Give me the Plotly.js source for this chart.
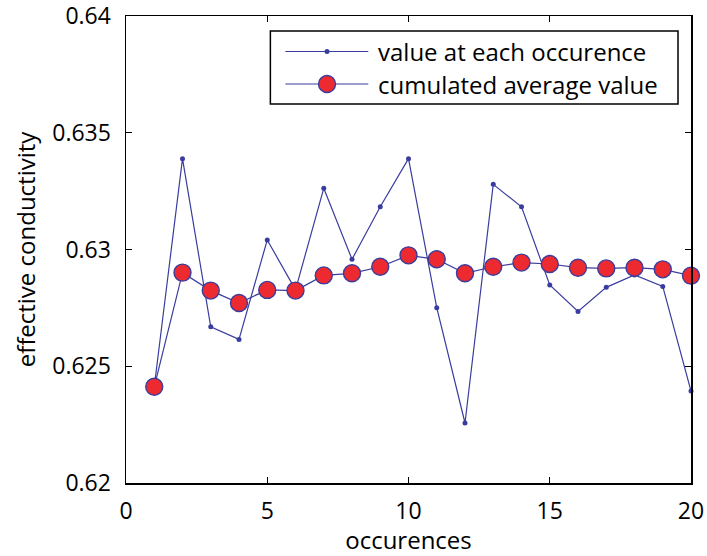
<!DOCTYPE html>
<html>
<head>
<meta charset="utf-8">
<script src="https://cdn.plot.ly/plotly-3.0.1.min.js"></script>
<style>html,body{margin:0;padding:0;background:#fff;}#chart{width:707px;height:556px;}</style>
</head>
<body>
<div id="chart"></div>
<script>
const occurrences = [1,2,3,4,5,6,7,8,9,10,11,12,13,14,15,16,17,18,19,20];
const valueAtEach = [0.62412,0.63389,0.62669,0.62615,0.63041,0.62827,0.63262,0.62958,0.63183,0.63389,
                     0.62751,0.62257,0.63279,0.63183,0.62848,0.62735,0.62838,0.62891,0.62842,0.62394];
const cumulatedAvg = [0.62412,0.62901,0.62824,0.62771,0.62827,0.62824,0.62889,0.62898,0.62926,0.62975,
                      0.62958,0.62898,0.62926,0.62944,0.62938,0.62922,0.62919,0.62922,0.62915,0.62888];
const xTicks = [0,5,10,15,20];
const yTicks = [0.62,0.625,0.63,0.635,0.64];
const yTickText = ['0.62','0.625','0.63','0.635','0.64'];
const legendLabels = ['value at each occurence','cumulated average value'];

const BLUE = '#3a3d9e';
const RED = '#ec2a30';
const FONT = 'Open Sans, sans-serif';
const W = 707, H = 556;
const M = {l:125.5, r:16, t:16, b:73};
const pw = W - M.l - M.r, ph = H - M.t - M.b;
const px = v => (v - M.l) / pw;
const py = v => (H - M.b - v) / ph;

const traces = [
  {x: occurrences, y: valueAtEach, mode: 'lines+markers', name: legendLabels[0],
   line: {color: BLUE, width: 1.2}, marker: {color: BLUE, size: 5}, cliponaxis:false},
  {x: occurrences, y: cumulatedAvg, mode: 'lines+markers', name: legendLabels[1],
   line: {color: BLUE, width: 1.2}, marker: {color: RED, size: 17, line: {color: BLUE, width: 1.4}}, cliponaxis:false}
];

// custom legend (box, sample lines, markers, text)
const lg = {x0:270, x1:678, y0:31, y1:104, lx0:285, lx1:368, mx:326.7, rows:[51.5, 84], tx:376};
const shapes = [
  {type:'rect', xref:'paper', yref:'paper', x0:px(lg.x0), x1:px(lg.x1), y0:py(lg.y1), y1:py(lg.y0),
   line:{color:'#000', width:1.5}, fillcolor:'#fff', layer:'above'}
];
const annotations = [];
lg.rows.forEach((ry, i) => {
  shapes.push({type:'line', xref:'paper', yref:'paper', x0:px(lg.lx0), x1:px(lg.lx1), y0:py(ry), y1:py(ry),
               line:{color:BLUE, width:1.2}, layer:'above'});
  const r = i === 0 ? 2.5 : 8.5;
  shapes.push({type:'circle', xref:'paper', yref:'paper', x0:px(lg.mx - r), x1:px(lg.mx + r),
               y0:py(ry + r), y1:py(ry - r), fillcolor: i === 0 ? BLUE : RED,
               line:{color:BLUE, width: i === 0 ? 0 : 1.4}, layer:'above'});
  annotations.push({xref:'paper', yref:'paper', x:px(lg.tx), y:py(ry), xanchor:'left', yanchor:'middle',
                    text: legendLabels[i], showarrow:false, font:{family:FONT, size:24, color:'#000'}});
});

const axisCommon = {
  showline:true, linecolor:'#000', linewidth:1.5, mirror:'ticks', ticks:'inside', ticklen:6,
  tickcolor:'#000', tickwidth:1.2, showgrid:false, zeroline:false, ticklabeloverflow:'allow',
  tickfont:{family:FONT, size:23, color:'#000'}
};

const layout = {
  width: W, height: H, margin: M, paper_bgcolor:'#fff', plot_bgcolor:'#fff', showlegend:false,
  xaxis: Object.assign({}, axisCommon, {range:[-0.0001,20.0001], tickvals:xTicks, ticktext:xTicks.map(String),
    ticklabelstandoff: 7,
    title:{text:'occurences', font:{family:FONT, size:24, color:'#000'}, standoff: 3}}),
  yaxis: Object.assign({}, axisCommon, {range:[0.6199999,0.6400001], tickvals:yTicks, ticktext:yTickText,
    ticklabelstandoff: 9,
    title:{text:'effective conductivity', font:{family:FONT, size:24, color:'#000'}, standoff: 10}}),
  shapes: shapes, annotations: annotations
};

Plotly.newPlot('chart', traces, layout, {displayModeBar:false, staticPlot:true});
</script>
</body>
</html>
